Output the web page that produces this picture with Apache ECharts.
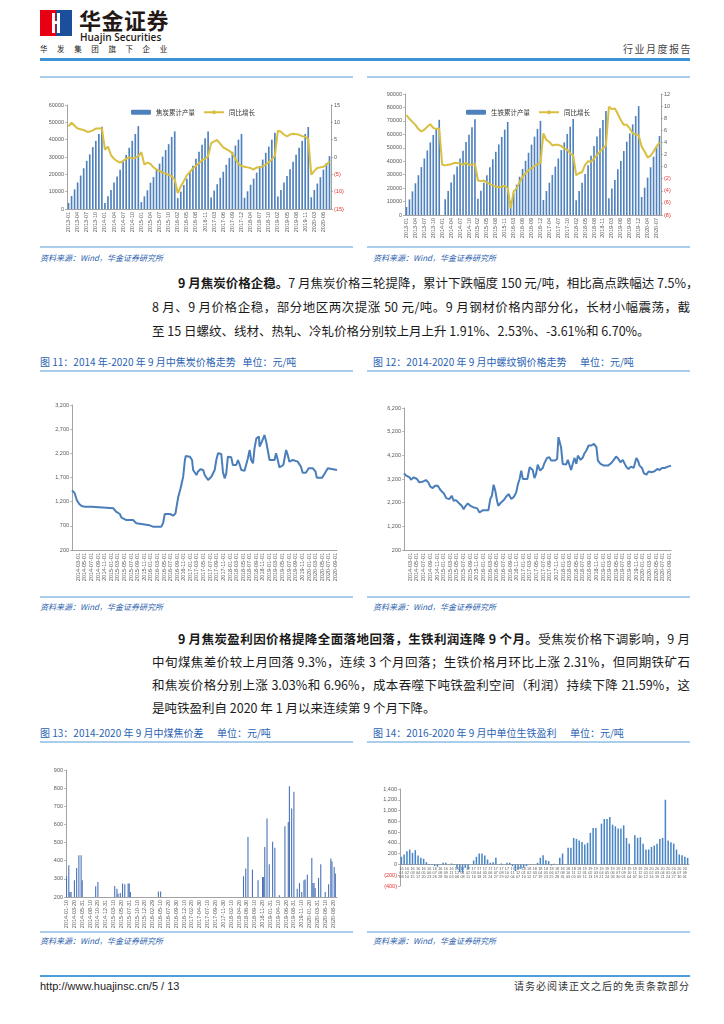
<!DOCTYPE html>
<html lang="zh-CN">
<head>
<meta charset="utf-8">
<title>行业月度报告</title>
<script src="https://cdn.jsdelivr.net/npm/echarts@6/dist/echarts.min.js"></script>
<style>
html,body{margin:0;padding:0;background:#fff;}
body{width:724px;height:1024px;position:relative;overflow:hidden;font-family:"Noto Sans CJK SC","Noto Sans",sans-serif;color:#222;}
.a{position:absolute;white-space:nowrap;}
.rule{position:absolute;height:2px;background:#a9cdea;}
.src{position:absolute;font-size:8px;font-style:italic;color:#2d5fae;line-height:10px;white-space:nowrap;}
.ttl{position:absolute;font-size:10px;color:#2a63b4;line-height:12px;white-space:nowrap;}
.p{position:absolute;font-size:12.5px;line-height:18px;color:#1a1a1a;white-space:nowrap;}
.j{text-align:justify;text-align-last:justify;}
b{font-weight:700;}
#chart{position:absolute;left:0;top:0;width:724px;height:1024px;}
</style>
</head>
<body>
<!-- header -->
<div class="a" style="left:40px;top:10px;width:16px;height:26px;background:#e60012"></div>
<div class="a" style="left:56px;top:10px;width:16px;height:26px;background:#1b4f9c"></div>
<div class="a" style="left:52px;top:13px;width:3px;height:20px;background:#fff"></div>
<div class="a" style="left:57px;top:13px;width:3px;height:20px;background:#fff"></div>
<div class="a" style="left:52px;top:21px;width:8px;height:3px;background:#fff"></div>
<div class="a" style="left:79px;top:5px;font-size:22px;font-weight:700;color:#231815;letter-spacing:0.5px;line-height:28px">华金证券</div>
<div class="a" style="left:80px;top:31px;font-size:10px;font-weight:600;color:#231815;font-family:'Open Sans',sans-serif;line-height:12px">Huajin Securities</div>
<div class="a" style="left:40px;top:44px;font-size:7.5px;color:#231815;letter-spacing:9.6px;line-height:10px">华发集团旗下企业</div>
<div class="a" style="right:32px;top:43px;font-size:10px;color:#444;letter-spacing:1.5px;line-height:12px">行业月度报告</div>
<div class="a" style="left:40px;top:58px;width:650px;height:2.5px;background:#3e93d8"></div>

<!-- row 1 frames -->
<div class="rule" style="left:40px;top:76px;width:313px"></div>
<div class="rule" style="left:367px;top:76px;width:323px"></div>
<div class="rule" style="left:40px;top:246px;width:313px"></div>
<div class="rule" style="left:367px;top:246px;width:323px"></div>
<div class="src" style="left:40px;top:253px">资料来源：Wind，华金证券研究所</div>
<div class="src" style="left:373px;top:253px">资料来源：Wind，华金证券研究所</div>

<!-- paragraph 1 -->
<div class="p j" style="left:178px;top:274px;width:512px"><b>9 月焦炭价格企稳。</b>7 月焦炭价格三轮提降，累计下跌幅度 150 元/吨，相比高点跌幅达 7.5%，</div>
<div class="p j" style="left:152px;top:298px;width:538px">8 月、9 月价格企稳，部分地区两次提涨 50 元/吨。9 月钢材价格内部分化，长材小幅震荡，截</div>
<div class="p" style="left:152px;top:322px">至 15 日螺纹、线材、热轧、冷轧价格分别较上月上升 1.91%、2.53%、-3.61%和 6.70%。</div>

<!-- row 2 frames -->
<div class="ttl" style="left:40px;top:356px">图 11：2014 年-2020 年 9 月中焦炭价格走势&nbsp;&nbsp;&nbsp;单位：元/吨</div>
<div class="ttl" style="left:373px;top:356px">图 12：2014-2020 年 9 月中螺纹钢价格走势&nbsp;&nbsp;&nbsp;&nbsp;&nbsp;&nbsp;单位：元/吨</div>
<div class="rule" style="left:40px;top:370px;width:313px"></div>
<div class="rule" style="left:367px;top:370px;width:323px"></div>
<div class="rule" style="left:40px;top:596px;width:313px"></div>
<div class="rule" style="left:367px;top:596px;width:323px"></div>
<div class="src" style="left:40px;top:602px">资料来源：Wind，华金证券研究所</div>
<div class="src" style="left:373px;top:602px">资料来源：Wind，华金证券研究所</div>

<!-- paragraph 2 -->
<div class="p j" style="left:178px;top:630px;width:512px"><b>9 月焦炭盈利因价格提降全面落地回落，生铁利润连降 9 个月。</b>受焦炭价格下调影响，9 月</div>
<div class="p j" style="left:152px;top:653px;width:538px">中旬煤焦差价较上月回落 9.3%，连续 3 个月回落；生铁价格月环比上涨 2.31%，但同期铁矿石</div>
<div class="p j" style="left:152px;top:676px;width:538px">和焦炭价格分别上涨 3.03%和 6.96%，成本吞噬下吨铁盈利空间（利润）持续下降 21.59%，这</div>
<div class="p" style="left:152px;top:699px">是吨铁盈利自 2020 年 1 月以来连续第 9 个月下降。</div>

<!-- row 3 frames -->
<div class="ttl" style="left:40px;top:727px">图 13：2014-2020 年 9 月中煤焦价差&nbsp;&nbsp;&nbsp;&nbsp;&nbsp;&nbsp;单位：元/吨</div>
<div class="ttl" style="left:373px;top:727px">图 14：2016-2020 年 9 月中单位生铁盈利&nbsp;&nbsp;&nbsp;&nbsp;&nbsp;&nbsp;单位：元/吨</div>
<div class="rule" style="left:40px;top:741px;width:313px"></div>
<div class="rule" style="left:367px;top:741px;width:323px"></div>
<div class="rule" style="left:40px;top:931px;width:313px"></div>
<div class="rule" style="left:367px;top:931px;width:323px"></div>
<div class="src" style="left:40px;top:936px">资料来源：Wind，华金证券研究所</div>
<div class="src" style="left:373px;top:936px">资料来源：Wind，华金证券研究所</div>

<!-- footer -->
<div class="a" style="left:40px;top:975px;width:650px;height:2px;background:#4c9ddc"></div>
<div class="a" style="left:40px;top:979px;font-size:11px;color:#222;font-family:'Liberation Sans',Arial,sans-serif;line-height:14px">http://www.huajinsc.cn/5 / 13</div>
<div class="a" style="right:34px;top:979px;font-size:10px;color:#333;letter-spacing:1px;line-height:14px">请务必阅读正文之后的免责条款部分</div>

<div id="chart"></div>
<script>
// ================= DATA =================
// coke cumulative output (万吨) and YoY (%)
const cokeOutPeriods = [[2013,1,12],[2014,1,12],[2015,1,12],[2016,2,12],[2017,2,12],[2018,2,12],[2019,2,12],[2020,2,8]];
const cokeOutVals = [
 3500,7500,11300,15300,19300,23500,27800,31500,35700,39300,43300,47500,
 3400,7400,11000,15300,18800,22700,27300,31200,35300,39300,43300,47800,
 4000,7300,10800,15200,18400,22600,26200,30200,34000,37400,41500,44800,
 6300,10000,13800,17500,21000,25000,29000,33000,37000,40800,44700,
 6700,10600,14300,18000,21500,25500,29400,33000,36600,40000,43300,
 6500,10200,14000,17500,21000,24800,28500,32400,36000,40000,44000,
 7200,11000,15300,19000,23000,27300,31300,35300,39300,43300,47300,
 6800,11000,14700,18300,22700,26500,30500];
const cokeOutYoY = [
 8.8,9.9,9.0,8.2,8.0,7.8,7.3,7.3,7.7,8.2,8.2,8.3,
 2.1,3.0,0.5,-0.5,-1.2,-1.6,-1.1,-0.5,-0.1,-0.4,-0.2,0.2,
 1.4,-2.2,-1.6,-2.0,-3.0,-3.6,-4.0,-4.5,-4.8,-5.1,-5.6,-6.5,
 -10.4,-8.5,-7.0,-5.3,-4.3,-3.3,-2.5,-1.8,-1.0,-0.5,0.1,
 4.0,4.5,4.9,3.8,2.8,2.3,1.8,1.0,-0.5,-2.0,-2.6,
 -2.8,-3.0,-3.2,-3.6,-3.0,-3.0,-2.7,-2.2,-1.5,-0.7,0.3,
 7.6,7.3,6.5,5.9,6.5,6.7,6.6,6.4,6.0,5.8,5.3,
 -5.1,-4.0,-3.2,-3.0,-2.8,-2.2,-1.3];

// pig iron cumulative output (万吨) and YoY (%)
const pigPeriods = [[2013,1,12],[2014,1,12],[2015,2,12],[2016,2,12],[2017,2,12],[2018,2,12],[2019,2,12],[2020,2,8]];
const pigVals = [
 6000,11600,17600,23600,29600,35600,42000,48000,54000,59500,64800,70800,
 null,11700,17900,24100,30200,36000,42000,47800,54300,59700,65200,71300,
 12000,18000,24000,29500,35500,41500,47000,52500,58000,63500,69200,
 10500,16500,22500,28500,34300,40300,46300,52300,58300,64000,70000,
 11200,17800,24000,29800,36000,42000,48300,54000,60300,65700,71400,
 11000,17800,24000,30500,37000,44000,51300,58300,64500,70700,77300,
 12400,19800,26000,34000,40200,47600,54500,60700,67400,73600,81000,
 13400,20300,27800,35500,43400,50800,58800];
const pigYoY = [
 8.5,7.9,7.4,6.9,6.2,5.8,6.1,6.6,7.0,6.4,6.2,6.3,
 0.3,0.2,0.3,0.4,0.6,0.6,0.5,0.3,0.6,0.3,0.3,0.5,
 -2.3,-2.4,-2.3,-2.6,-2.9,-3.1,-3.3,-3.4,-3.3,-3.2,-3.5,
 -6.9,-4.1,-3.6,-2.5,-1.7,-1.1,-0.6,-0.3,0.1,0.4,0.6,
 5.5,4.4,4.1,3.5,3.6,3.6,3.4,3.0,2.8,2.2,1.9,
 -1.4,-1.1,-0.9,0.3,0.9,0.8,1.3,1.9,2.5,3.0,3.5,
 9.9,9.5,9.6,8.7,7.7,6.9,6.9,6.3,5.5,5.3,5.2,
 3.3,2.5,1.5,1.8,2.5,3.3,4.0];

// Fig 11: coke price (元/吨)
const cokePriceDates = ['2014-01-02','2014-01-25','2014-02-05','2014-02-15','2014-03-10','2014-04-01','2014-05-01','2014-07-02','2014-07-18',
 '2015-01-20','2015-02-13','2015-03-20','2015-04-04','2015-05-20','2015-07-20','2015-08-20','2015-10-20','2015-12-20',
 '2016-01-20','2016-04-06','2016-04-22','2016-05-08','2016-06-25','2016-07-25','2016-08-15','2016-08-25','2016-09-10','2016-10-01','2016-10-25','2016-11-10','2016-11-18','2016-12-25',
 '2017-01-15','2017-01-25','2017-02-25','2017-03-10','2017-04-02','2017-04-28','2017-05-12','2017-06-12','2017-06-27','2017-07-12','2017-07-27','2017-08-12','2017-08-27','2017-09-12','2017-10-12','2017-10-27','2017-11-12','2017-11-27','2017-12-12',
 '2018-01-12','2018-01-27','2018-02-27','2018-03-15','2018-04-01','2018-04-15','2018-05-15','2018-06-15','2018-07-01','2018-07-15','2018-08-01','2018-08-15','2018-09-01','2018-09-25','2018-10-01','2018-10-22','2018-11-15','2018-12-01','2018-12-15',
 '2019-01-01','2019-02-16','2019-03-02','2019-03-18','2019-04-02','2019-04-18','2019-05-08','2019-06-03','2019-06-18','2019-07-03','2019-08-03','2019-09-18','2019-10-18','2019-11-03','2019-12-03','2019-12-28',
 '2020-02-05','2020-03-01','2020-03-12','2020-05-01','2020-05-22','2020-06-22','2020-07-06','2020-09-15'];
const cokePriceVals = [1430,1386,1372,1235,1152,1110,1097,1097,1062,
 1062,993,945,870,820,820,752,731,710,
 683,683,752,945,945,910,958,1097,1303,1476,1717,2062,2145,2131,
 2062,1855,1752,1820,1869,1855,1752,1648,1614,1717,1752,1855,2062,2200,2186,1820,1683,1786,2131,
 2117,1959,1959,2062,1959,1855,1841,2097,2269,2062,1993,2303,2510,2545,2338,2441,2579,2441,2269,
 2062,2062,2200,2062,1910,1890,1959,2269,2165,2028,2062,2028,1924,1800,1800,1890,
 1890,1820,1697,1697,1772,1890,1855,1855];

// Fig 12: rebar price (元/吨)
const rebarDates = ['2014-01-02','2014-01-22','2014-02-22','2014-03-07','2014-04-01','2014-04-13','2014-05-01','2014-05-22','2014-06-22','2014-07-22','2014-08-13','2014-09-01','2014-09-22','2014-10-14','2014-11-08','2014-12-02',
 '2015-01-03','2015-01-24','2015-02-22','2015-03-15','2015-04-03','2015-04-24','2015-05-24','2015-06-15','2015-07-03','2015-07-15','2015-08-10','2015-09-03','2015-10-03','2015-11-03','2015-11-25','2015-12-10','2015-12-28',
 '2016-01-25','2016-02-15','2016-03-03','2016-03-18','2016-04-03','2016-04-18','2016-05-03','2016-05-15','2016-06-10','2016-07-05','2016-07-26','2016-08-18','2016-09-12','2016-10-06','2016-10-27','2016-11-12','2016-11-27','2016-12-12','2016-12-27',
 '2017-01-12','2017-02-06','2017-02-27','2017-03-12','2017-03-27','2017-04-12','2017-04-27','2017-05-12','2017-06-03','2017-06-27','2017-07-12','2017-08-06','2017-08-27','2017-09-12','2017-09-27','2017-10-18','2017-11-06','2017-11-18','2017-12-01','2017-12-12','2017-12-27',
 '2018-01-12','2018-01-27','2018-02-12','2018-02-27','2018-03-14','2018-03-29','2018-04-15','2018-05-01','2018-05-15','2018-06-09','2018-07-01','2018-07-15','2018-08-01','2018-08-22','2018-09-15','2018-10-09','2018-10-21','2018-11-01','2018-11-15','2018-12-09',
 '2019-01-09','2019-02-15','2019-03-15','2019-04-09','2019-05-01','2019-05-22','2019-06-09','2019-07-01','2019-07-15','2019-08-01','2019-08-22','2019-09-15','2019-10-09','2019-11-02','2019-11-17','2019-12-02','2019-12-24',
 '2020-01-11','2020-02-03','2020-02-24','2020-03-18','2020-04-18','2020-05-12','2020-06-03','2020-06-24','2020-07-18','2020-08-18','2020-09-15'];
const rebarVals = [3440,3341,3270,3171,3270,3341,3200,3058,3087,3157,3058,2874,2818,2917,2917,2733,
 2591,2393,2351,2492,2280,2308,2167,2068,1926,2025,2167,2068,1997,1969,1785,1714,1884,
 1884,1884,2351,2492,2959,2705,2308,2068,2209,2308,2450,2563,2351,2450,2634,2988,3200,3554,3200,
 3129,3200,3695,3766,3582,3242,3412,3808,3554,3667,3865,4091,4120,3978,3907,3978,4049,4968,4898,4544,3837,
 3907,3808,4006,4049,3582,3837,4091,3837,4190,4006,4120,4289,4403,4615,4615,4686,4756,4544,3978,3837,
 3766,3766,3865,4006,4148,4049,3907,4006,3978,3723,3624,3723,3667,4091,3978,3766,3667,
 3440,3384,3525,3483,3525,3624,3582,3667,3667,3723,3766];

// Fig 13: coal-coke spread, ten-day data 2014-01 to 2020-09 mid (values below the 200 axis floor are not visible)
const spreadYears = [2014,2015,2016,2017,2018,2019,2020];
const spreadSlots = [0,2,3,4,7,9,11,13,14,26,28,43,45,46,48,50,52,55,56,57,82,84,158,160,162,166,171,175,176,177,179,181,184,186,190,195,198,199,201,203,206,208,210,212,213,215,219,220,221,222,225,227,231,234,236,237,239,240];
const spreadVals = [314,375,228,228,292,360,430,430,292,259,283,261,246,218,222,274,270,274,274,228,231,231,314,357,531,351,292,310,310,476,633,380,504,471,209,590,614,811,688,780,246,277,228,292,296,323,415,277,277,250,305,380,228,270,412,397,366,329];

// Fig 14: pig iron profit per ton (元/吨), 2016-01 to 2020-09
const profitVals = [142,185,246,277,215,265,166,123,105,43,
 -12,-10,-31,-43,-5,31,31,0,18,-10,
 -80,-142,-154,-60,-92,0,74,142,203,203,
 166,92,31,43,123,0,18,0,31,31,
 -31,-123,-92,-80,-62,-31,0,0,0,31,
 123,172,80,62,-18,12,0,123,203,null,
 308,308,492,474,443,418,369,400,585,677,
 677,null,757,843,843,880,738,708,665,665,
 726,492,388,null,541,492,505,382,277,277,
 326,351,382,474,492,1200,443,412,388,277,
 185,172,142,123];

// ================= CATEGORY BUILDERS =================
const pad = n => (n < 10 ? '0' : '') + n;
function monthCats(periods){ const out=[]; periods.forEach(([y,a,b])=>{ for(let m=a;m<=b;m++) out.push(y+'-'+pad(m)); }); return out; }
const cokeOutCats = monthCats(cokeOutPeriods);
const pigCats = monthCats(pigPeriods);
const tenDayCats = [];
spreadYears.forEach(y=>{
  for(let m=1;m<=12;m++){
    const last = new Date(y, m, 0).getDate();
    [10,20,last].forEach(d=>{ if(!(y===2020 && (m>9 || (m===9 && d>20)))) tenDayCats.push(y+'-'+pad(m)+'-'+pad(d)); });
  }
});
const spreadData = tenDayCats.map(()=>null);
spreadSlots.forEach((s,i)=>{ spreadData[s] = spreadVals[i]; });
const profitCats = profitVals.map((_,i)=>{ const d=new Date(2016,0,8+Math.round(i*16.65)); return String(d.getFullYear()).slice(2)+'\n'+pad(d.getMonth()+1)+'\n'+pad(d.getDate()); });

// ================= CHART =================
const chart = echarts.init(document.getElementById('chart'));
const FF = "'Liberation Sans', Arial, sans-serif";
const LC = '#595959';
const axisLine = {show:true, lineStyle:{color:'#8c8c8c', width:0.8}};
const noSplit = {show:false};
const tick = {show:true, length:2, lineStyle:{color:'#8c8c8c', width:0.6}};
const negRich = {n:{color:'#e8312f', fontSize:5.5, fontFamily:FF}};
function paren(v){ return v < 0 ? '{n|(' + (-v).toLocaleString('en-US') + ')}' : v.toLocaleString('en-US'); }

function catX(grid, data, interval, extra){
  return Object.assign({type:'category', gridIndex:grid, data:data, axisLine:Object.assign({onZero:false}, axisLine), axisTick:{show:false}, splitLine:noSplit,
    axisLabel:{rotate:90, interval:interval, fontSize:5.5, color:LC, fontFamily:FF, margin:3}}, extra||{});
}
function timeX(grid){
  return {type:'time', gridIndex:grid, min:'2014-01-02', max:'2020-09-15', splitNumber:30, axisLine:axisLine, axisTick:{show:false}, splitLine:noSplit, minorTick:{show:false},
    axisLabel:{rotate:90, fontSize:5.5, color:LC, fontFamily:FF, margin:3, formatter:'{yyyy}-{MM}-{dd}', hideOverlap:true}};
}
function valY(grid, min, max, interval, pos, fmt){
  return {type:'value', gridIndex:grid, position:pos||'left', min:min, max:max, interval:interval, axisLine:axisLine, axisTick:tick, splitLine:noSplit,
    axisLabel:{fontSize:5.5, color:LC, fontFamily:FF, margin:3, formatter:fmt || (v=>v.toLocaleString('en-US')), rich:negRich}};
}

// grid 6 geometry: zero line sits 400/1800 of the height above the bottom
const g6 = {left:400, top:789, width:289, height:97};
const g6ZeroOffset = -g6.height * 400 / 1800;

const option = {
  animation:false,
  textStyle:{fontFamily:"'Noto Sans CJK SC', sans-serif"},
  grid:[
    {left:67, top:105, width:264, height:104},
    {left:405, top:94, width:256, height:121},
    {left:72, top:405, width:265, height:145},
    {left:404, top:408, width:267, height:142},
    {left:66, top:770, width:271, height:127},
    g6
  ],
  legend:[
    {data:['焦炭累计产量','同比增长'], left:126, top:104, itemWidth:20, itemHeight:5, itemGap:8, textStyle:{fontSize:6.5, color:'#333'}},
    {data:['生铁累计产量','同比增长'], left:461, top:104, itemWidth:20, itemHeight:5, itemGap:8, textStyle:{fontSize:6.5, color:'#333'}}
  ],
  xAxis:[
    catX(0, cokeOutCats, 2),
    catX(1, pigCats, 2),
    timeX(2),
    timeX(3),
    catX(4, tenDayCats, 6),
    {type:'category', gridIndex:5, position:'bottom', offset:g6ZeroOffset, data:profitCats, axisLine:Object.assign({onZero:false}, axisLine), axisTick:{show:false}, splitLine:noSplit,
      axisLabel:{interval:1, fontSize:3.8, lineHeight:4.3, color:LC, fontFamily:FF, margin:2}}
  ],
  yAxis:[
    valY(0, 0, 60000, 10000, 'left', v=>String(v)),
    valY(0, -15, 15, 5, 'right', paren),
    valY(1, 0, 90000, 10000, 'left', v=>String(v)),
    valY(1, -8, 12, 2, 'right', paren),
    valY(2, 200, 3200, 500),
    valY(3, 200, 6200, 1000),
    valY(4, 200, 900, 100),
    valY(5, -400, 1400, 200, 'left', paren)
  ],
  series:[
    {type:'bar', name:'焦炭累计产量', xAxisIndex:0, yAxisIndex:0, data:cokeOutVals, barWidth:'55%', itemStyle:{color:'#4f81bd'}},
    {type:'line', name:'同比增长', xAxisIndex:0, yAxisIndex:1, data:cokeOutYoY, symbol:'none', lineStyle:{color:'#d9bf3f', width:2}, itemStyle:{color:'#d9bf3f'}},
    {type:'bar', name:'生铁累计产量', xAxisIndex:1, yAxisIndex:2, data:pigVals, barWidth:'55%', itemStyle:{color:'#4f81bd'}},
    {type:'line', name:'同比增长', xAxisIndex:1, yAxisIndex:3, data:pigYoY, symbol:'none', lineStyle:{color:'#d9bf3f', width:2}, itemStyle:{color:'#d9bf3f'}},
    {type:'line', name:'焦炭价格', xAxisIndex:2, yAxisIndex:4, data:cokePriceDates.map((d,i)=>[d,cokePriceVals[i]]), symbol:'none', lineStyle:{color:'#4a7ebb', width:2}},
    {type:'line', name:'螺纹钢价格', xAxisIndex:3, yAxisIndex:5, data:rebarDates.map((d,i)=>[d,rebarVals[i]]), symbol:'none', lineStyle:{color:'#4a7ebb', width:2}},
    {type:'bar', name:'煤焦价差', xAxisIndex:4, yAxisIndex:6, data:spreadData, barWidth:1.1, itemStyle:{color:'#4a73b8'}},
    {type:'bar', name:'单位生铁盈利', xAxisIndex:5, yAxisIndex:7, data:profitVals, barWidth:'55%', itemStyle:{color:'#4a86c5'}}
  ]
};
chart.setOption(option);
</script>
</body>
</html>
